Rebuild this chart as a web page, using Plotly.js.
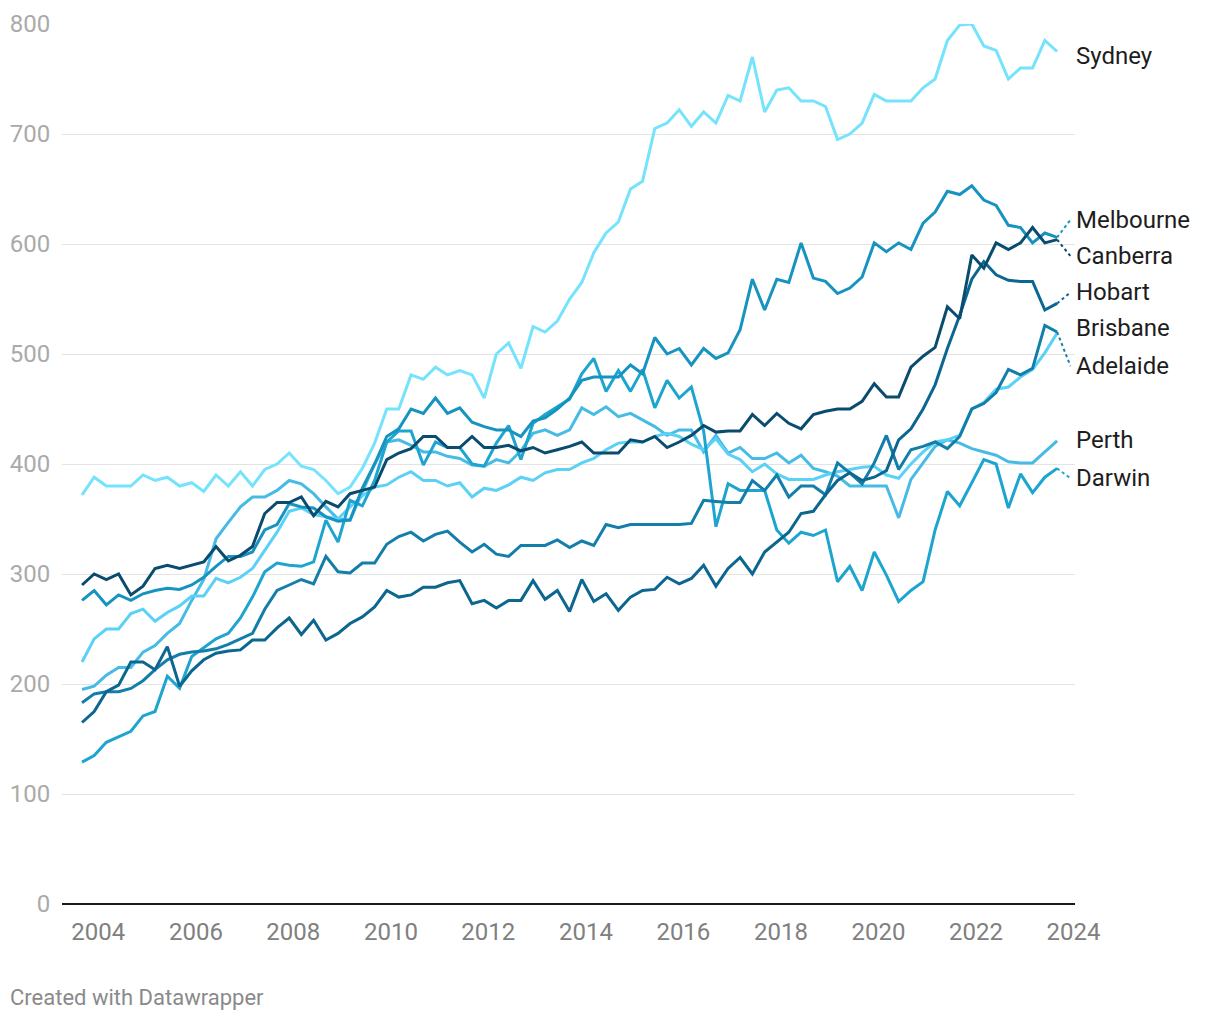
<!DOCTYPE html>
<html>
<head>
<meta charset="utf-8">
<script src="https://cdn.plot.ly/plotly-3.0.1.min.js"></script>
<style>html,body{margin:0;padding:0;background:#fff;}#chart{width:1220px;height:1020px;}</style>
</head>
<body>
<div id="chart"></div>
<script>
// Quarterly observation dates
const dates = [
 "2003-09-01","2003-12-01",
 "2004-03-01","2004-06-01","2004-09-01","2004-12-01",
 "2005-03-01","2005-06-01","2005-09-01","2005-12-01",
 "2006-03-01","2006-06-01","2006-09-01","2006-12-01",
 "2007-03-01","2007-06-01","2007-09-01","2007-12-01",
 "2008-03-01","2008-06-01","2008-09-01","2008-12-01",
 "2009-03-01","2009-06-01","2009-09-01","2009-12-01",
 "2010-03-01","2010-06-01","2010-09-01","2010-12-01",
 "2011-03-01","2011-06-01","2011-09-01","2011-12-01",
 "2012-03-01","2012-06-01","2012-09-01","2012-12-01",
 "2013-03-01","2013-06-01","2013-09-01","2013-12-01",
 "2014-03-01","2014-06-01","2014-09-01","2014-12-01",
 "2015-03-01","2015-06-01","2015-09-01","2015-12-01",
 "2016-03-01","2016-06-01","2016-09-01","2016-12-01",
 "2017-03-01","2017-06-01","2017-09-01","2017-12-01",
 "2018-03-01","2018-06-01","2018-09-01","2018-12-01",
 "2019-03-01","2019-06-01","2019-09-01","2019-12-01",
 "2020-03-01","2020-06-01","2020-09-01","2020-12-01",
 "2021-03-01","2021-06-01","2021-09-01","2021-12-01",
 "2022-03-01","2022-06-01","2022-09-01","2022-12-01",
 "2023-03-01","2023-06-01","2023-09-01"
];

const sydney = [372,388,380,380,380,390,385,388,380,383, 375,390,380,393,380,395,400,410,398,395,
 385,373,379,396,419,450,450,481,477,488, 481,485,481,460,500,510,487,525,520,530,
 550,565,592,610,620,650,657,705,710,722, 707,720,710,735,730,770,720,740,742,730,
 730,725,695,700,710,736,730,730,730,742, 750,785,799,800,780,776,750,760,760,785,775];

const melbourne = [276,285,272,281,276,282,285,287,286,290, 297,307,316,316,320,340,345,364,361,360,
 352,348,349,378,400,425,432,450,446,460, 446,451,438,434,431,431,425,439,442,450,
 460,476,479,479,479,490,482,515,500,505, 490,505,496,501,522,568,540,568,565,601,
 569,566,555,560,570,601,593,601,595,619, 629,648,645,653,640,635,617,615,601,610,606];

const canberra = [290,300,295,300,281,289,305,308,305,308, 311,325,312,317,325,355,365,365,370,353,
 366,361,373,376,379,404,410,414,425,425, 415,415,425,415,415,417,412,415,410,413,
 416,420,410,410,410,422,420,425,415,420, 426,435,429,430,430,445,435,446,437,432,
 445,448,450,450,457,473,461,461,488,498, 506,543,532,590,578,601,595,601,615,601,604];

const hobart = [165,175,193,199,220,220,213,234,198,212, 222,228,230,231,240,240,251,260,245,258,
 240,246,255,261,270,285,279,281,288,288, 292,294,273,276,269,276,276,294,277,285,
 266,295,275,282,267,279,285,286,297,291, 296,308,289,305,315,300,320,329,338,355,
 357,372,385,392,385,388,394,422,432,450, 472,505,535,568,584,572,567,566,566,540,546];

const brisbane = [220,241,250,250,264,268,257,265,271,280, 280,296,292,297,305,322,338,357,360,354,
 352,350,361,371,379,381,388,393,385,385, 380,383,370,378,376,381,388,385,392,395,
 395,401,405,413,419,420,420,425,428,425, 418,413,423,409,404,393,400,391,386,386,
 386,390,393,395,397,398,390,387,400,411, 420,422,426,450,456,468,470,479,486,501,519];

const adelaide = [183,191,193,193,196,203,213,222,227,229, 230,232,236,241,246,268,285,290,295,291,
 316,302,301,310,310,327,334,338,330,336, 339,329,320,327,318,316,326,326,326,331,
 324,330,326,345,342,345,345,345,345,345, 346,367,366,365,365,385,376,390,370,380,
 380,372,401,392,382,401,426,395,413,416, 420,414,425,450,455,465,486,481,487,526,520];

const perth = [195,198,208,215,215,229,235,246,255,276, 295,332,347,361,370,370,376,385,382,373,
 361,350,349,375,400,420,422,417,411,411, 407,405,399,398,404,401,412,428,431,426,
 431,451,445,452,443,446,440,434,426,431, 431,411,426,410,415,405,405,410,401,408,
 396,393,389,380,380,380,380,351,386,401, 416,422,419,414,411,408,402,401,401,411,421];

const darwin = [129,135,147,152,157,171,175,207,196,225, 233,241,246,260,279,302,310,308,307,311,
 349,329,367,362,385,420,430,430,399,420, 415,415,400,398,419,435,404,437,445,452,
 459,482,496,466,485,466,486,451,476,460, 470,430,343,382,376,376,376,340,328,338,
 335,340,293,307,285,320,299,275,285,293, 340,375,362,383,404,400,360,391,374,388,396];

const cityNames = ["Sydney","Melbourne","Canberra","Hobart","Brisbane","Adelaide","Perth","Darwin"];
const cityValues = [sydney, melbourne, canberra, hobart, brisbane, adelaide, perth, darwin];
const cityColors = ["#74e3fb","#1793c0","#0a4c6f","#0b6690","#5bd1f6","#137ea9","#47bbe6","#1da5d0"];
// label vertical positions (value units) for the right-hand labels
const labelPos = [771, 622, 589, 556, 524, 489, 422, 387];

const yearTicks = ["2004","2006","2008","2010","2012","2014","2016","2018","2020","2022","2024"];

const drawOrder = [0,6,4,7,5,1,3,2];
const traces = drawOrder.map(k => ({
  type: "scatter", mode: "lines",
  x: dates, y: cityValues[k], name: cityNames[k],
  line: {color: cityColors[k], width: 3, shape: "linear"},
  hoverinfo: "skip"
}));

const shapes = [];
const annotations = [];
cityNames.forEach((n, k) => {
  const vals = cityValues[k];
  const last = vals[vals.length - 1];
  if (Math.abs(labelPos[k] - last) > 6) {
    shapes.push({type: "line", xref: "x", yref: "y",
      x0: dates[dates.length - 1], y0: last, x1: "2023-12-10", y1: labelPos[k],
      line: {color: cityColors[k], width: 2, dash: "dot"}});
  }
  annotations.push({xref: "paper", yref: "y", x: 1, y: labelPos[k], xanchor: "left", yanchor: "middle",
    xshift: -1, text: n, showarrow: false, font: {family: "Roboto", size: 24, color: "#1d1d1d"}});
});
annotations.push({xref: "paper", yref: "paper", x: -0.0513, y: -0.1057, xanchor: "left", yanchor: "middle",
  xshift: -2, text: "Created with Datawrapper", showarrow: false, font: {family: "Roboto", size: 22, color: "#8a8a8a"}});

const layout = {
  width: 1220, height: 1020,
  margin: {l: 62, r: 145, t: 24, b: 116, pad: 0},
  paper_bgcolor: "#ffffff", plot_bgcolor: "#ffffff",
  showlegend: false,
  font: {family: "Roboto", size: 24, color: "#888"},
  xaxis: {
    type: "date", range: ["2003-04-04", "2024-01-13"],
    tickvals: yearTicks.map(y => y + "-01-01"), ticktext: yearTicks,
    tickfont: {family: "Roboto", size: 24, color: "#808080"},
    showgrid: false, zeroline: false, showline: false,
    ticks: "outside", ticklen: 6, tickcolor: "rgba(0,0,0,0)"
  },
  yaxis: {
    range: [0, 800], tick0: 0, dtick: 100,
    gridcolor: "#e3e3e3", gridwidth: 1,
    zeroline: true, zerolinecolor: "#1a1a1a", zerolinewidth: 2,
    showline: false,
    tickfont: {family: "Roboto", size: 24, color: "#aaaaaa"},
    ticks: "outside", ticklen: 6, tickcolor: "rgba(0,0,0,0)"
  },
  shapes: shapes,
  annotations: annotations
};

Plotly.newPlot("chart", traces, layout, {staticPlot: true, displayModeBar: false});
</script>
</body>
</html>
